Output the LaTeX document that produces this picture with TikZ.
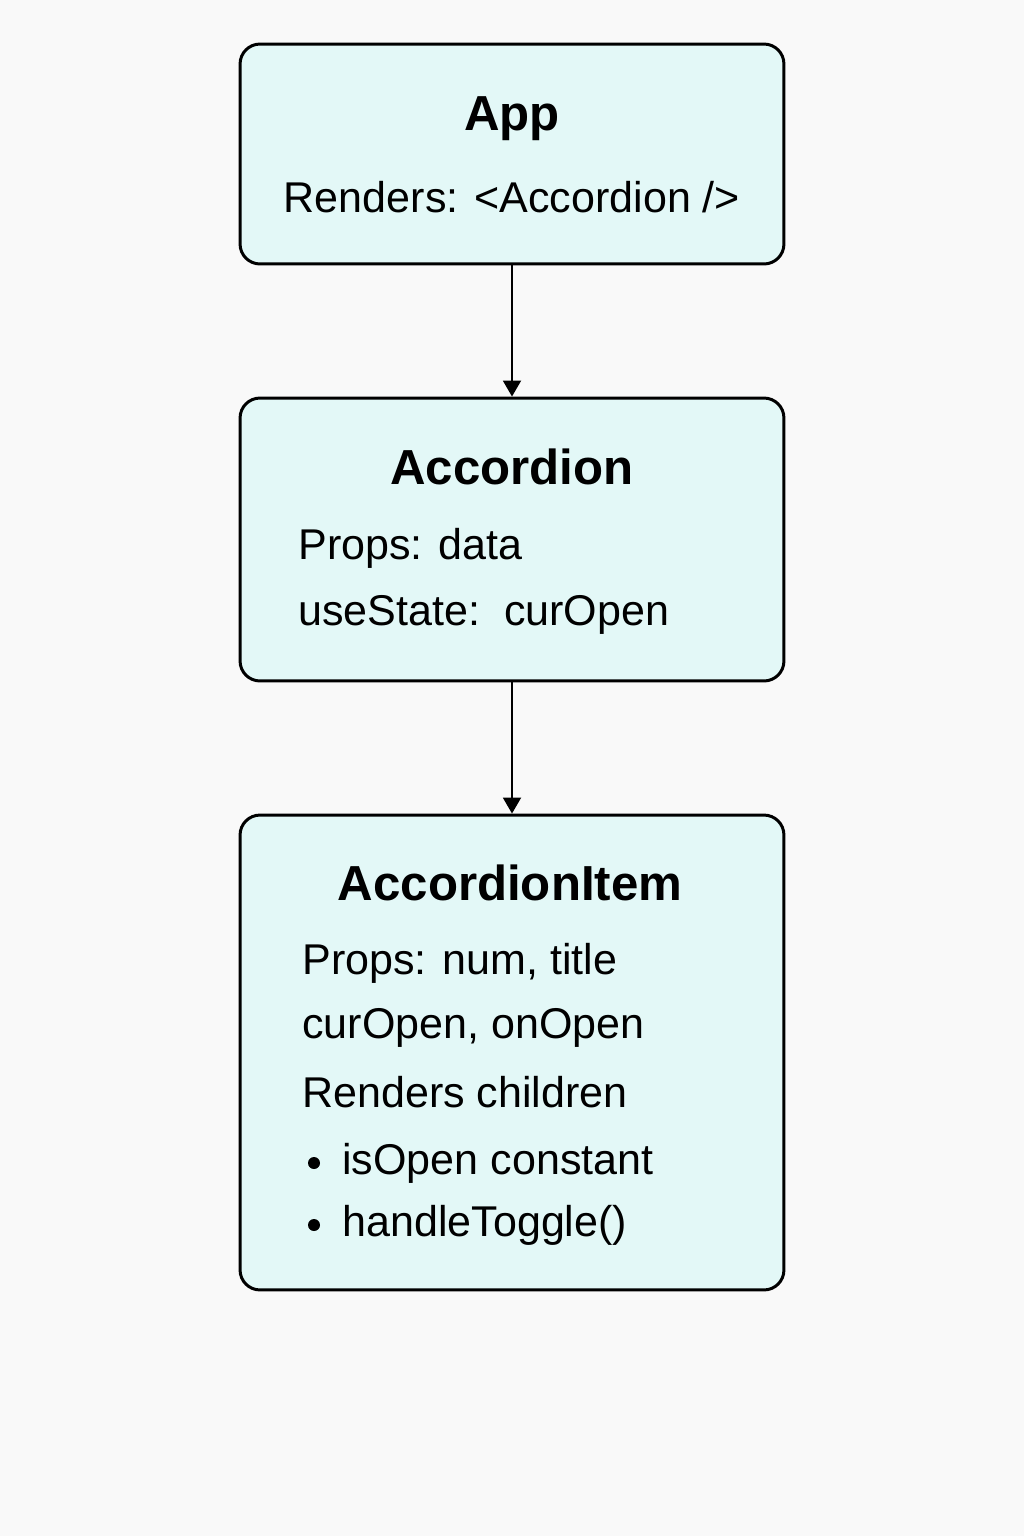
\documentclass[tikz,border=0pt]{standalone}
\usepackage{fontspec}
\setmainfont{Liberation Sans}
\usepackage{xcolor}
\usetikzlibrary{arrows.meta}
\definecolor{boxF}{RGB}{227,248,247}
\definecolor{bgF}{RGB}{249,249,249}

\begin{document}
\begin{tikzpicture}[
  x=0.02cm,y=-0.02cm,
  comp/.style={rectangle,draw=black,fill=boxF,line width=1.7pt,rounded corners=0.4cm,minimum width=10.88cm,inner sep=0pt},
  ttl/.style={font=\fontsize{28}{28}\selectfont\bfseries},
  txt/.style={anchor=west,font=\fontsize{24.5}{24.5}\selectfont,inner sep=0pt},
  arr/.style={-{Triangle[length=0.32cm,width=0.36cm]},line width=1.1pt}
]
  \fill[bgF] (0,0) rectangle (1024,1536);
  \useasboundingbox (0,0) rectangle (1024,1536);
  % ---------------- APP ----------------
  \node[comp,minimum height=4.4cm] (app) at (512,154) {};
  \node[ttl] (appT) at (512,119) {App};
  \node[txt,anchor=center] (appR) at (512,197) {Renders: <Accordion />};
  % ---------------- ACCORDION ----------------
  \node[comp,minimum height=5.66cm] (acc) at (512,539.5) {};
  \node[ttl] (accT) at (512,467) {Accordion};
  \node[txt] (accP) at (298,548) {Props: data};
  \node[txt] (accS) at (298,615) {useState:\ \ curOpen};
  % ---------------- ACCORDION ITEM ----------------
  \node[comp,minimum height=9.5cm] (item) at (512,1052.5) {};
  \node[ttl] (itemT) at (510,883) {AccordionItem};
  \node[txt] (itemP) at (302,963) {Props: num, title};
  \node[txt] (itemC) at (302,1028) {curOpen, onOpen};
  \node[txt] (itemR) at (302,1092) {Renders children};
  \foreach \nm/\y/\t in {b1/1163/isOpen constant,b2/1225/handleToggle()}{
    \fill (314,\y) circle (0.12cm);
    \node[txt] (\nm) at (342,\y) {\t};}
  % ---------------- ARROWS ----------------
  \draw[arr] (app.south) -- (acc.north);
  \draw[arr] (acc.south) -- (item.north);
\end{tikzpicture}
\end{document}
